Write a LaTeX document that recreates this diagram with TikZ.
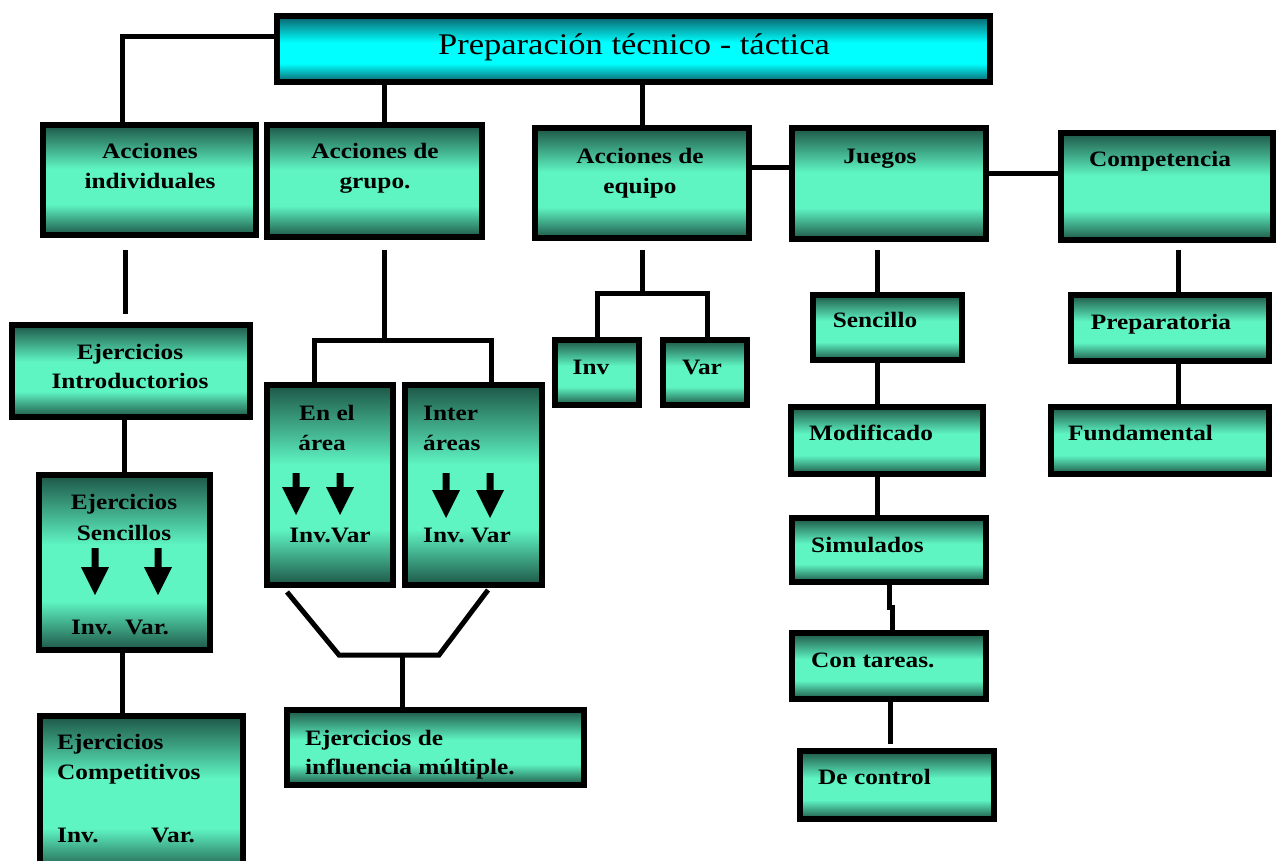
\documentclass[tikz,border=0pt]{standalone}
\usepackage{fontspec}
\setmainfont{Liberation Serif}
\newfontfamily\lblfont{Liberation Serif}[FakeStretch=1.15]
\usetikzlibrary{calc}
\definecolor{dk}{HTML}{1D5646}
\definecolor{lt}{HTML}{5FF5C3}
\definecolor{cdk}{HTML}{0B5F68}
\definecolor{clt}{HTML}{00FFFF}
\pgfdeclareverticalshading{tube}{100bp}{color(0bp)=(dk); color(25bp)=(dk); color(39bp)=(lt); color(55bp)=(lt); color(75bp)=(dk); color(100bp)=(dk)}
\pgfdeclareverticalshading{ctube}{100bp}{color(0bp)=(cdk); color(25bp)=(cdk); color(39bp)=(clt); color(55bp)=(clt); color(75bp)=(cdk); color(100bp)=(cdk)}
\tikzset{
  box/.style={draw=black, line width=6pt, shading=tube, rectangle, inner sep=0pt},
  conn/.style={draw=black, line width=5pt},
  txt/.style={font=\lblfont\bfseries\fontsize{22}{28}\selectfont, inner sep=0pt, text height=14pt, text depth=0pt, anchor=center},
  ltxt/.style={txt, anchor=west},
  ttl/.style={font=\lblfont\fontsize{30}{36}\selectfont, inner sep=0pt, text height=20pt, text depth=0pt, anchor=center}
}
\newcommand\mkbox[6][]{\node[box,#1,minimum width={(#5)-(#3)-6},minimum height={(#6)-(#4)-6}] (#2) at ({((#3)+(#5))/2},{((#4)+(#6))/2}) {};}
\newcommand\darrow[3]{\fill[black] (#1-3.5,#2) -- (#1+3.5,#2) -- (#1+3.5,#3-28) -- (#1+14,#3-28) -- (#1,#3) -- (#1-14,#3-28) -- (#1-3.5,#3-28) -- cycle;}
\begin{document}
\begin{tikzpicture}[x=1pt,y=-1pt]
\clip (0,0) rectangle (1277,861);
\fill[white] (0,0) rectangle (1277,861);
% boxes
\mkbox[shading=ctube]{title}{274}{13}{993}{85}
\mkbox{ai}{40}{122}{259}{238}
\mkbox{ag}{264}{122}{485}{240}
\mkbox{ae}{532}{125}{752}{241}
\mkbox{ju}{789}{125}{989}{242}
\mkbox{co}{1058}{130}{1276}{243}
\mkbox{ei}{9}{322}{253}{420}
\mkbox{es}{36}{472}{213}{653}
\mkbox{ec}{37}{713}{246}{875}
\mkbox{ea}{264}{382}{396}{588}
\mkbox{ia}{402}{382}{545}{588}
\mkbox{im}{284}{707}{587}{788}
\mkbox{inv}{552}{337}{642}{408}
\mkbox{var}{660}{337}{750}{408}
\mkbox{se}{810}{292}{965}{363}
\mkbox{mo}{788}{404}{986}{477}
\mkbox{si}{789}{515}{989}{585}
\mkbox{ct}{789}{630}{989}{702}
\mkbox{dc}{797}{748}{997}{822}
\mkbox{pr}{1068}{292}{1272}{364}
\mkbox{fu}{1048}{404}{1272}{477}
% texts
\node[ttl] (t0) at (634,45) {Preparación técnico - táctica};
\node[txt] (ai1) at (150,152) {Acciones};
\node[txt] (ai2) at (150,182) {individuales};
\node[txt] (ag1) at (375,152) {Acciones de};
\node[txt] (ag2) at (375,182) {grupo.};
\node[txt] (ae1) at (640,157) {Acciones de};
\node[txt] (ae2) at (640,187) {equipo};
\node[txt] (ju1) at (880,157) {Juegos};
\node[txt] (co1) at (1160,160) {Competencia};
\node[txt] (ei1) at (130,352) {Ejercicios};
\node[txt] (ei2) at (130,381) {Introductorios};
\node[txt] (es1) at (124,502) {Ejercicios};
\node[txt] (es2) at (124,533) {Sencillos};
\node[txt] (es3) at (120,627) {Inv.\ \ Var.};
\node[ltxt] (ec1) at (57,742) {Ejercicios};
\node[ltxt] (ec2) at (57,772) {Competitivos};
\node[ltxt] (ec3) at (57,835) {Inv.};
\node[ltxt] (ec4) at (151,835) {Var.};
\node[txt] (ea1) at (327,413) {En el};
\node[txt] (ea2) at (322,443) {área};
\node[txt] (ea3) at (330,535) {Inv.Var};
\node[ltxt] (ia1) at (423,413) {Inter};
\node[ltxt] (ia2) at (423,443) {áreas};
\node[ltxt] (ia3) at (423,535) {Inv.\ Var};
\node[ltxt] (im1) at (305,738) {Ejercicios de};
\node[ltxt] (im2) at (305,767) {influencia múltiple.};
\node[txt] (inv1) at (591,367) {Inv};
\node[txt] (var1) at (702,367) {Var};
\node[txt] (se1) at (875,320) {Sencillo};
\node[ltxt] (mo1) at (809,433) {Modificado};
\node[ltxt] (si1) at (811,545) {Simulados};
\node[ltxt] (ct1) at (811,660) {Con tareas.};
\node[ltxt] (dc1) at (818,777) {De control};
\node[txt] (pr1) at (1161,322) {Preparatoria};
\node[ltxt] (fu1) at (1068,433) {Fundamental};
% arrows inside boxes
\darrow{95}{548}{595}
\darrow{158}{548}{595}
\darrow{296}{473}{515}
\darrow{340}{473}{515}
\darrow{446}{473}{518}
\darrow{490}{473}{518}
% connectors
\draw[conn] (title.west |- 0,37) -| (ai.north -| 122,0);
\draw[conn] (title.south -| 384,0) -- (ag.north -| 384,0);
\draw[conn] (title.south -| 642,0) -- (ae.north -| 642,0);
\draw[conn] (ae.east |- 0,168) -- (ju.west |- 0,168);
\draw[conn] (ju.east |- 0,174) -- (co.west |- 0,174);
\draw[conn, shorten <=12pt, shorten >=8pt] (ai.south -| 125,0) -- (ei.north -| 125,0);
\draw[conn] (ei.south -| 124,0) -- (es.north -| 124,0);
\draw[conn] (es.south -| 122,0) -- (ec.north -| 122,0);
\coordinate (gbar) at (384,340);
\draw[conn, shorten <=10pt] (ag.south -| 384,0) -- (gbar);
\draw[conn] (ea.north -| 314,0) -- (314,340) -- (491,340) -- (ia.north -| 491,0);
\coordinate (tl) at (339,655);
\coordinate (tr) at (439,655);
\draw[conn] ($(ea.south -| 287,0)+(0,4)$) -- (tl) -- (tr) -- ($(ia.south -| 488,0)+(0,2)$);
\draw[conn] (402,655) -- (im.north -| 402,0);
\coordinate (ebar) at (642,293);
\draw[conn, shorten <=9pt] (ae.south -| 642,0) -- (ebar);
\draw[conn] (inv.north -| 597,0) -- (597,293) -- (707,293) -- (var.north -| 707,0);
\draw[conn, shorten <=8pt] (ju.south -| 877,0) -- (se.north -| 877,0);
\draw[conn] (se.south -| 877,0) -- (mo.north -| 877,0);
\draw[conn] (mo.south -| 877,0) -- (si.north -| 877,0);
\draw[conn] (si.south -| 889,0) -- (889,607) -- (892,607) -- (ct.north -| 892,0);
\draw[conn, shorten >=4pt] (ct.south -| 890,0) -- (dc.north -| 890,0);
\draw[conn, shorten <=7pt] (co.south -| 1178,0) -- (pr.north -| 1178,0);
\draw[conn] (pr.south -| 1178,0) -- (fu.north -| 1178,0);
\end{tikzpicture}
\end{document}
